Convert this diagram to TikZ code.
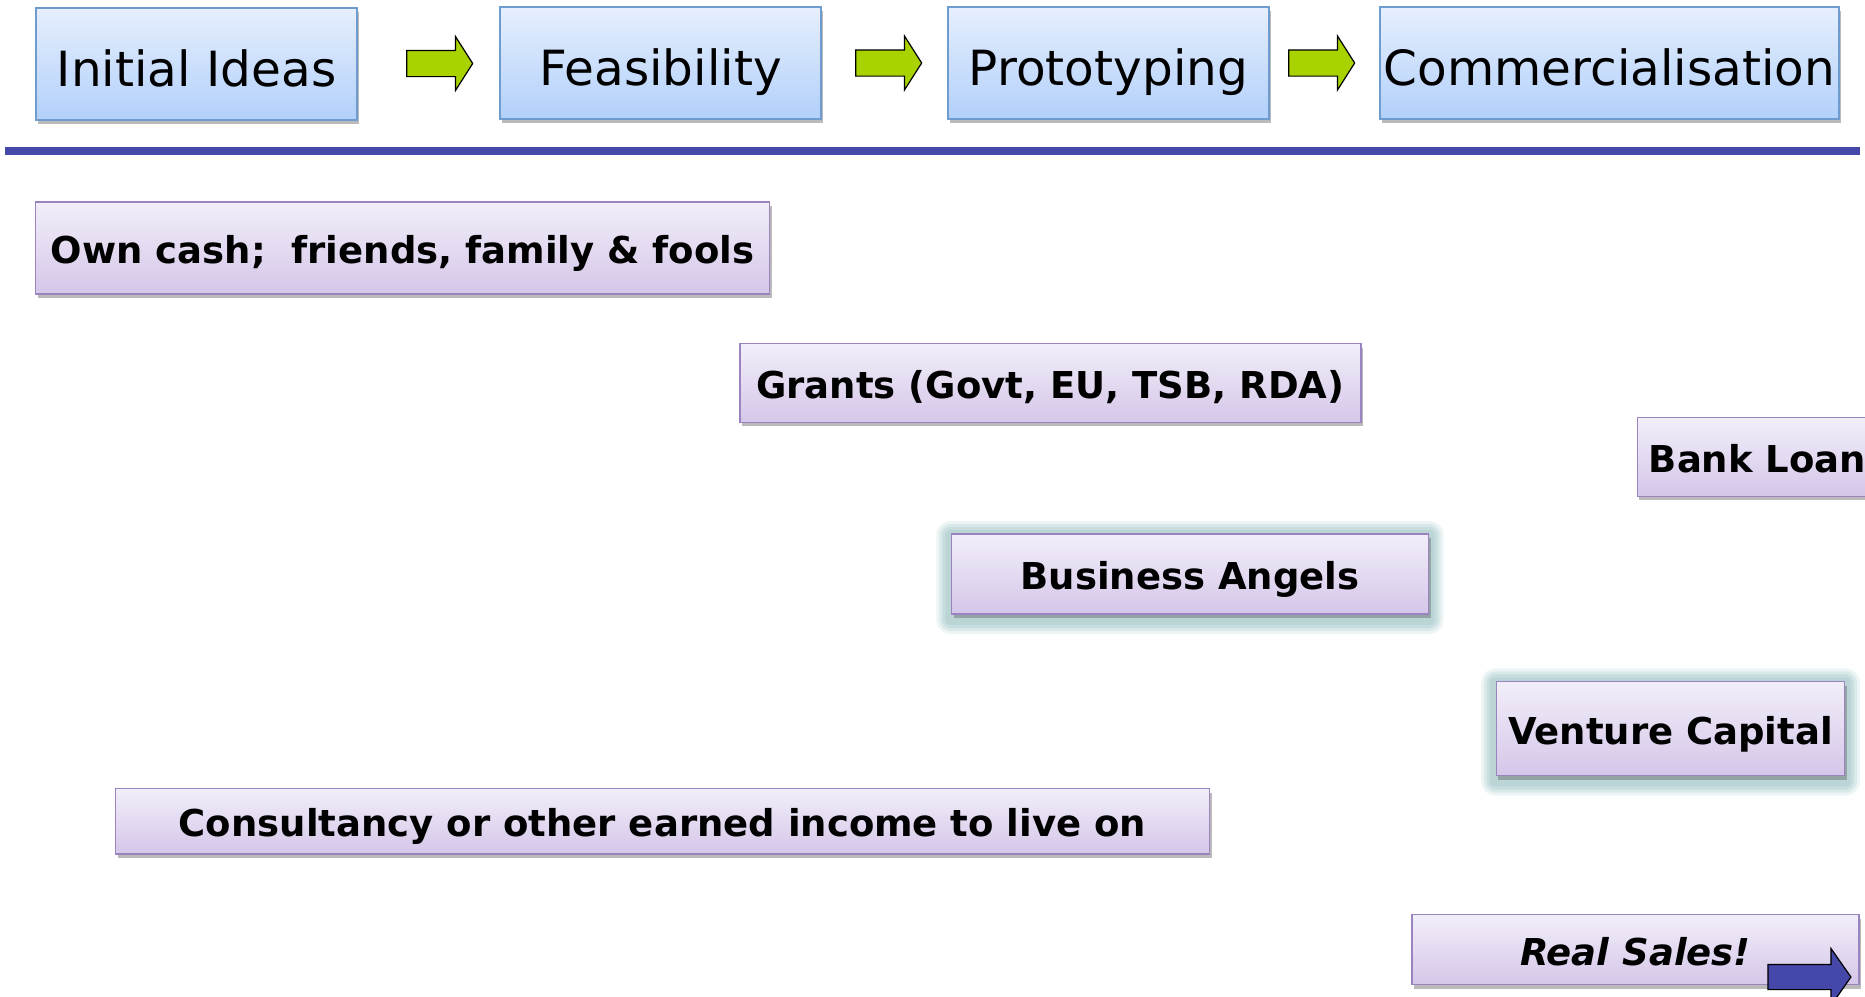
\documentclass[tikz,border=0pt]{standalone}
\usepackage{fontspec}
\setmainfont{DejaVu Sans}
\usetikzlibrary{calc,shapes.arrows,shadows}

\definecolor{stageTop}{HTML}{E6EFFD}
\definecolor{stageBot}{HTML}{B2D0FB}
\definecolor{stageLine}{HTML}{6E9CCF}
\definecolor{fundTop}{HTML}{F2EEF9}
\definecolor{fundBot}{HTML}{D5C6E9}
\definecolor{fundLine}{HTML}{9A84C0}
\definecolor{leafGreen}{HTML}{A8D300}
\definecolor{ruleBlue}{HTML}{4548A8}
\definecolor{glowTeal}{HTML}{B6D2D3}

\tikzset{
  stagebox/.style={draw=stageLine, line width=1.2pt, top color=stageTop, bottom color=stageBot,
    drop shadow={shadow xshift=2pt, shadow yshift=-4pt, opacity=0.45, fill=black!60},
    minimum height=112pt, inner sep=0pt, text height=54pt, text depth=10pt,
    font=\fontsize{48.5}{58}\selectfont},
  fundbox/.style={draw=fundLine, line width=1.4pt, top color=fundTop, bottom color=fundBot,
    drop shadow={shadow xshift=2pt, shadow yshift=-4pt, opacity=0.45, fill=black!60},
    inner sep=0pt, text height=39pt, text depth=8pt, font=\fontsize{37}{44}\selectfont\bfseries},
  stagearrow/.style={single arrow, draw=black, line width=1.2pt, fill=leafGreen,
    minimum height=66pt, inner xsep=0pt, inner ysep=12.5pt,
    single arrow head extend=14pt, single arrow tip angle=115, single arrow head indent=0pt},
}

% soft halo round a box
\newcommand\halo[1]{%
  \foreach \g/\o in {15/0.25,12/0.35,9/0.5,6/0.7}
    \fill[glowTeal, opacity=\o, rounded corners=\g pt]
      ($(#1.north west)+(-\g pt,\g pt)+(0,-2pt)$) rectangle ($(#1.south east)+(\g pt,-\g pt)+(0,-5pt)$);
}

\begin{document}
\begin{tikzpicture}[x=1pt,y=-1pt]
  \useasboundingbox (0,0) rectangle (1865,996);
  \clip (0,0) rectangle (1865,996);

  % stages along the top
  \node[stagebox, minimum width=321pt] (ideas) at (196.5,64) {Initial Ideas};
  \node[stagebox, minimum width=321pt] (feas)  at (660.5,63) {Feasibility};
  \node[stagebox, minimum width=321pt] (proto) at (1108.5,63) {Prototyping};
  \node[stagebox, minimum width=459pt] (comm)  at (1609.5,63) {Commercialisation};

  \node[stagearrow] (a1) at ($(ideas.east)!0.5!(feas.west)+(7,0)$) {};
  \node[stagearrow] (a2) at ($(feas.east)!0.5!(proto.west)$) {};
  \node[stagearrow] (a3) at ($(proto.east)!0.5!(comm.west)+(-7,0)$) {};

  \coordinate (ruleL) at (5,151);
  \coordinate (ruleR) at (1860,151);
  \draw[ruleBlue, line width=8pt] (ruleL) -- (ruleR);

  % sources of money
  \node[fundbox, minimum width=734pt, minimum height=92pt] (own) at (402.6,248) {Own cash;\ \ friends, family \& fools};
  \node[fundbox, minimum width=621pt, minimum height=78.5pt] (grants) at (1050.3,383) {Grants (Govt, EU, TSB, RDA)};
  \node[fundbox, minimum width=270pt, minimum height=78.5pt, anchor=west] (bank) at (1636.6,457) {};
  \node[anchor=base west, font=\fontsize{37}{44}\selectfont\bfseries, inner sep=0pt] (banktxt) at ($(bank.west)+(12,15.5)$) {Bank Loan};

  \node[minimum width=477pt, minimum height=80pt, inner sep=0pt] (angelsG) at (1190,574) {};
  \halo{angelsG}
  \node[fundbox, minimum width=477pt, minimum height=80pt] (angels) at (1190,574) {Business Angels};

  \node[minimum width=348.5pt, minimum height=94pt, inner sep=0pt] (ventureG) at (1670.5,728.5) {};
  \halo{ventureG}
  \node[fundbox, minimum width=348.5pt, minimum height=94pt] (venture) at (1670.5,728.5) {Venture Capital};

  \node[fundbox, minimum width=1094pt, minimum height=65.4pt] (consult) at (662.5,821.3) {Consultancy or other earned income to live on};

  \node[fundbox, minimum width=447pt, minimum height=70pt] (sales) at (1635.4,949.7) {\itshape Real Sales!\hspace*{0pt}};
  \node[single arrow, draw=black, line width=1.2pt, fill=ruleBlue, minimum height=83pt,
    inner xsep=0pt, inner ysep=12pt, single arrow head extend=16pt, single arrow tip angle=110,
    single arrow head indent=0pt] (salesarrow) at (1805,977) {};
\end{tikzpicture}
\end{document}
